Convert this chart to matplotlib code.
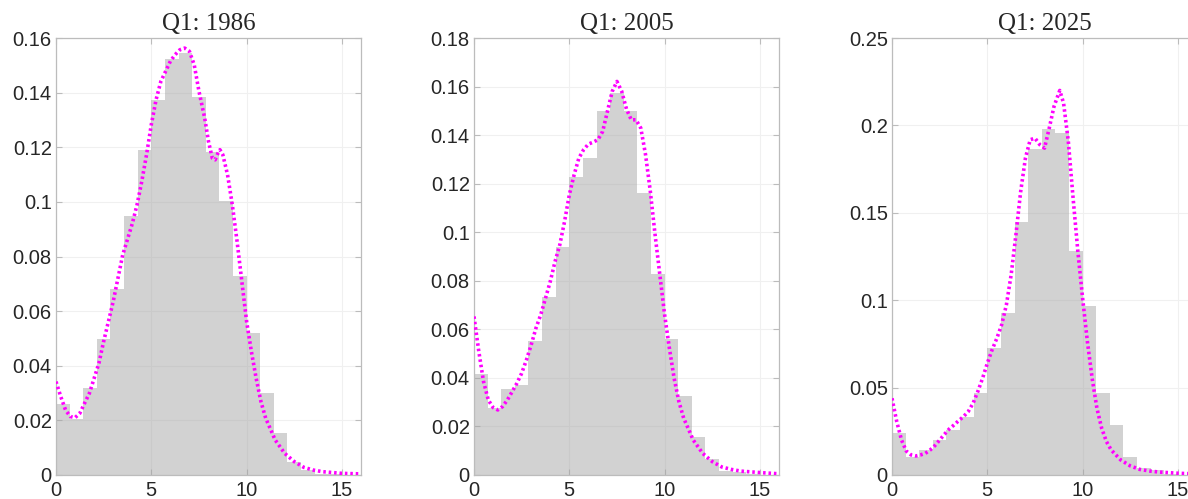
import numpy as np
import matplotlib
matplotlib.use("Agg")
import matplotlib.pyplot as plt
from matplotlib.ticker import FuncFormatter

# histogram bins: width 5/7 starting at 0
bin_width = 5 / 7
n_bins = 21

titles = ["Q1: 1986", "Q1: 2005", "Q1: 2025"]

hist_1986 = [0.0259, 0.0204, 0.0320, 0.0498, 0.0682, 0.0947, 0.1191, 0.1372, 0.1523, 0.1545,
             0.1383, 0.1182, 0.1002, 0.0728, 0.0521, 0.0299, 0.0153, 0.0049, 0.0018, 0.0005, 0.0002]
hist_2005 = [0.0416, 0.0275, 0.0353, 0.0371, 0.0554, 0.0735, 0.0940, 0.1227, 0.1305, 0.1500,
             0.1572, 0.1498, 0.1161, 0.0827, 0.0560, 0.0324, 0.0158, 0.0066, 0.0018, 0.0011, 0.0005]
hist_2025 = [0.0242, 0.0105, 0.0141, 0.0200, 0.0258, 0.0334, 0.0471, 0.0725, 0.0929, 0.1450,
             0.1863, 0.1981, 0.1958, 0.1282, 0.0969, 0.0471, 0.0286, 0.0105, 0.0038, 0.0029, 0.0008]

# density estimates
kde_x_1986 = [0, 0.25, 0.5, 0.75, 1.0, 1.25, 1.5, 1.75, 2.0, 2.25, 2.5, 3.0, 3.5, 4.0, 4.25, 4.5,
              4.75, 5.0, 5.25, 5.5, 5.75, 6.0, 6.25, 6.5, 6.75, 7.0, 7.25, 7.5, 7.8, 8.0, 8.2,
              8.35, 8.5, 8.6, 8.75, 9.0, 9.25, 9.5, 9.75, 10.0, 10.25, 10.5, 10.75, 11.0, 11.5,
              12.0, 12.5, 13.0, 13.5, 14.0, 15.0, 16.0]
kde_y_1986 = [0.0342, 0.0287, 0.0238, 0.0214, 0.0210, 0.0226, 0.0263, 0.0299, 0.0354, 0.0409,
              0.0489, 0.0635, 0.0806, 0.0920, 0.0989, 0.1075, 0.1173, 0.1283, 0.1374, 0.1441,
              0.1478, 0.1515, 0.1539, 0.1557, 0.1563, 0.1551, 0.1502, 0.1405, 0.1307, 0.1221,
              0.1160, 0.1154, 0.1179, 0.1191, 0.1173, 0.1099, 0.0989, 0.0855, 0.0708, 0.0562,
              0.0452, 0.0354, 0.0269, 0.0208, 0.0128, 0.0079, 0.0049, 0.0028, 0.0018, 0.0012,
              0.0006, 0.0004]

kde_x_2005 = [0, 0.25, 0.5, 0.75, 1.0, 1.25, 1.5, 1.75, 2.0, 2.25, 2.5, 2.75, 3.0, 3.25, 3.5,
              3.75, 4.0, 4.25, 4.5, 4.75, 5.0, 5.25, 5.5, 5.75, 6.0, 6.25, 6.5, 6.75, 7.0, 7.25,
              7.5, 7.75, 8.0, 8.25, 8.5, 8.75, 9.0, 9.25, 9.5, 9.75, 10.0, 10.25, 10.5, 10.75,
              11.0, 11.5, 12.0, 12.5, 13.0, 13.5, 14.0, 15.0, 16.0]
kde_y_2005 = [0.0653, 0.0510, 0.0385, 0.0309, 0.0278, 0.0268, 0.0282, 0.0309, 0.0343, 0.0378,
              0.0419, 0.0474, 0.0536, 0.0605, 0.0660, 0.0728, 0.0797, 0.0879, 0.0948, 0.1044,
              0.1154, 0.1236, 0.1305, 0.1340, 0.1363, 0.1371, 0.1381, 0.1415, 0.1498, 0.1580,
              0.1621, 0.1580, 0.1507, 0.1463, 0.1463, 0.1429, 0.1319, 0.1168, 0.0989, 0.0824,
              0.0660, 0.0522, 0.0398, 0.0302, 0.0234, 0.0144, 0.0089, 0.0055, 0.0033, 0.0023,
              0.0016, 0.0010, 0.0005]

kde_x_2025 = [0, 0.25, 0.5, 0.75, 1.0, 1.25, 1.5, 1.75, 2.0, 2.25, 2.5, 2.75, 3.0, 3.25, 3.5,
              3.75, 4.0, 4.25, 4.5, 4.75, 5.0, 5.25, 5.5, 5.75, 6.0, 6.25, 6.5, 6.75, 7.0, 7.25,
              7.5, 7.75, 8.0, 8.25, 8.5, 8.8, 9.0, 9.25, 9.5, 9.75, 10.0, 10.25, 10.5, 10.75,
              11.0, 11.25, 11.5, 12.0, 12.5, 13.0, 13.5, 14.0, 15.0, 16.0]
kde_y_2025 = [0.0439, 0.0305, 0.0200, 0.0137, 0.0115, 0.0109, 0.0115, 0.0124, 0.0143, 0.0168,
              0.0200, 0.0233, 0.0263, 0.0286, 0.0311, 0.0334, 0.0363, 0.0410, 0.0477, 0.0553,
              0.0639, 0.0716, 0.0782, 0.0859, 0.0973, 0.1145, 0.1374, 0.1622, 0.1813, 0.1918,
              0.1927, 0.1890, 0.1870, 0.1985, 0.2109, 0.2200, 0.2128, 0.1908, 0.1584, 0.1279,
              0.1011, 0.0763, 0.0553, 0.0382, 0.0267, 0.0191, 0.0143, 0.0086, 0.0052, 0.0032,
              0.0023, 0.0017, 0.0010, 0.0006]

y_limits = [0.16, 0.18, 0.25]
y_steps = [0.02, 0.02, 0.05]

hists = [hist_1986, hist_2005, hist_2025]
kdes = [(kde_x_1986, kde_y_1986), (kde_x_2005, kde_y_2005), (kde_x_2025, kde_y_2025)]

edge_gray = "#bcbcbc"
fig = plt.figure(figsize=(11.88, 4.99), dpi=100)
lefts = [56 / 1188, 474 / 1188, 892 / 1188]

for i in range(3):
    ax = fig.add_axes([lefts[i], 24 / 499, 305 / 1188, 437 / 499])
    left_edges = np.arange(n_bins) * bin_width
    ax.bar(left_edges, hists[i], width=bin_width, align="edge",
           color="#a6a6a6", alpha=0.5, linewidth=0, zorder=2)
    ax.plot(kdes[i][0], kdes[i][1], color="#ff00ff", linewidth=2.6,
            linestyle=(0, (0.7, 0.8)), dash_capstyle="butt", zorder=3)

    ax.set_xlim(0, 16)
    ax.set_ylim(0, y_limits[i])
    ax.set_xticks([0, 5, 10, 15])
    ax.set_yticks(np.arange(0, y_limits[i] + 1e-9, y_steps[i]))
    ax.yaxis.set_major_formatter(FuncFormatter(lambda v, p: "%g" % round(v, 4)))
    ax.grid(True, color="#f0f0f0", linewidth=0.8, zorder=0)
    ax.set_axisbelow(True)
    for s in ax.spines.values():
        s.set_color(edge_gray)
        s.set_linewidth(0.9)
    ax.tick_params(direction="in", length=4, width=0.8, color=edge_gray,
                   top=True, right=True, labelsize=14.5, labelcolor="#262626")
    ax.tick_params(axis="x", pad=4)
    ax.tick_params(axis="y", pad=3)
    for lab in ax.get_xticklabels() + ax.get_yticklabels():
        lab.set_family("Liberation Sans")
    ax.set_title(titles[i], fontsize=18, family="Liberation Serif", color="#262626", pad=6)

fig.savefig("out.png", dpi=100)
